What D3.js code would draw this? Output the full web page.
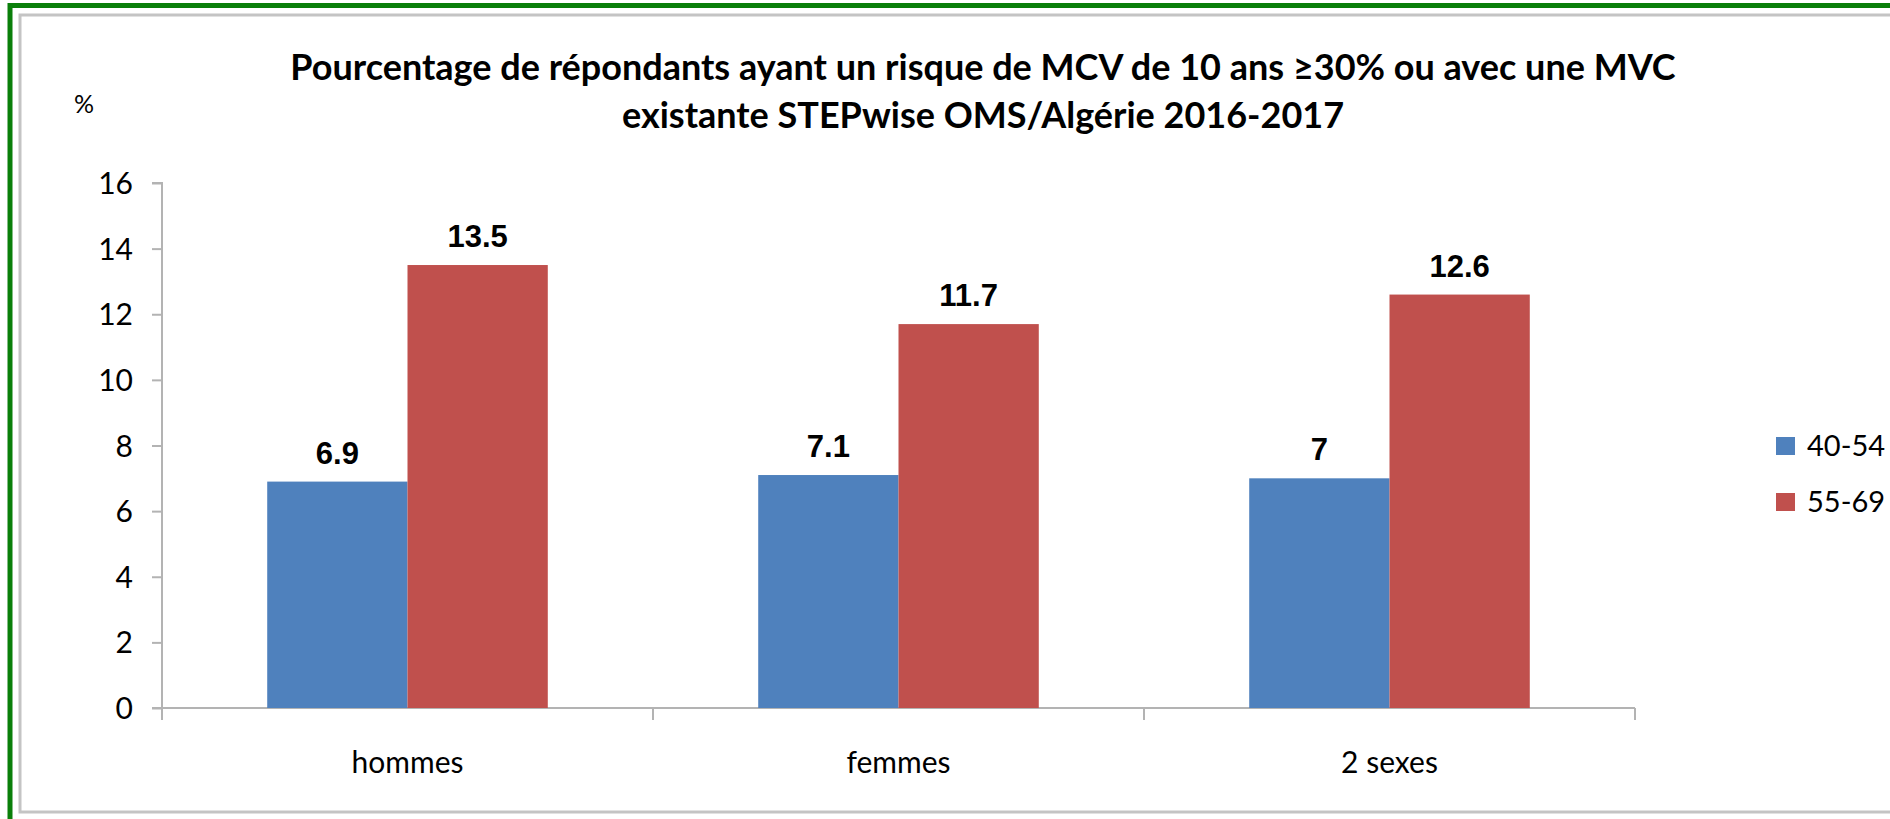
<!DOCTYPE html>
<html>
<head>
<meta charset="utf-8">
<script src="https://cdn.jsdelivr.net/npm/d3@7"></script>
<style>
  html, body { margin: 0; padding: 0; background: #fff; }
  svg { display: block; }
</style>
</head>
<body>
<div id="chart-container"></div>
<script>
const categories = ['hommes', 'femmes', '2 sexes'];
const series = ['40-54', '55-69'];
const values4054 = [6.9, 7.1, 7];
const values5569 = [13.5, 11.7, 12.6];
const yTicks = [0, 2, 4, 6, 8, 10, 12, 14, 16];
const titleLines = [
  'Pourcentage de répondants ayant un risque de MCV de 10 ans ≥30% ou avec une MVC',
  'existante STEPwise OMS/Algérie 2016-2017'
];

const colors = { '40-54': '#4F81BD', '55-69': '#C0504D' };

const W = 1890, H = 819;
const margin = { top: 183, right: 255, bottom: 111, left: 162 };
const width = W - margin.left - margin.right;
const height = H - margin.top - margin.bottom;

const svg = d3.select('#chart-container')
  .append('svg')
  .attr('width', W)
  .attr('height', H);

// frames
svg.append('rect')
  .attr('x', 20).attr('y', 15)
  .attr('width', W + 20).attr('height', 797)
  .attr('fill', '#fff')
  .attr('stroke', '#c4c4c4')
  .attr('stroke-width', 3);

svg.append('rect')
  .attr('x', 10).attr('y', 5.5)
  .attr('width', W + 20).attr('height', H + 20)
  .attr('fill', 'none')
  .attr('stroke', '#0a7f0a')
  .attr('stroke-width', 5);

// title
svg.append('text')
  .attr('x', 983)
  .attr('y', 80)
  .attr('text-anchor', 'middle')
  .style('font-family', 'Lato, sans-serif')
  .style('font-weight', 'bold')
  .style('font-size', '36px')
  .attr('fill', '#000')
  .selectAll('tspan')
  .data(titleLines)
  .enter()
  .append('tspan')
  .attr('x', 983)
  .attr('dy', (d, i) => i === 0 ? 0 : 48)
  .text(d => d);

svg.append('text')
  .attr('x', 84)
  .attr('y', 113)
  .attr('text-anchor', 'middle')
  .style('font-family', 'Lato, sans-serif')
  .style('font-size', '25px')
  .text('%');

const g = svg.append('g')
  .attr('transform', `translate(${margin.left},${margin.top})`);

const x = d3.scaleBand()
  .domain(categories)
  .range([0, width])
  .padding(0);

const bw = x.bandwidth() / 3.5;
const xs = d3.scaleBand()
  .domain(series)
  .range([0.75 * bw, 2.75 * bw])
  .padding(0);

const y = d3.scaleLinear()
  .domain([0, 16])
  .range([height, 0]);

// y axis
const yAxis = g.append('g')
  .call(d3.axisLeft(y).tickValues(yTicks).tickSize(10).tickPadding(19).tickFormat(d3.format('d')));
yAxis.select('.domain').attr('stroke', '#b3b3b3').attr('stroke-width', 2)
  .attr('d', `M-10,0H0V${height}`);
yAxis.selectAll('.tick line').attr('stroke', '#b3b3b3').attr('stroke-width', 2);
yAxis.selectAll('.tick text')
  .style('font-family', 'Lato, sans-serif')
  .style('font-size', '30px')
  .attr('fill', '#000')
  .attr('dy', '0.35em');

// x axis
const xAxis = g.append('g')
  .attr('transform', `translate(0,${height})`)
  .call(d3.axisBottom(x).tickSize(0).tickPadding(44));
xAxis.select('.domain').attr('stroke', '#b3b3b3').attr('stroke-width', 2)
  .attr('d', `M-10,0H${width}`);
xAxis.selectAll('.tick text')
  .style('font-family', 'Lato, sans-serif')
  .style('font-size', '30px')
  .attr('fill', '#000');

// category boundary ticks
g.append('g')
  .selectAll('line')
  .data(d3.range(categories.length + 1))
  .enter()
  .append('line')
  .attr('x1', i => i * x.step())
  .attr('x2', i => i * x.step())
  .attr('y1', height)
  .attr('y2', height + 12)
  .attr('stroke', '#b3b3b3')
  .attr('stroke-width', 2);

const data = categories.map((c, i) => ({
  category: c,
  values: [
    { key: '40-54', value: values4054[i] },
    { key: '55-69', value: values5569[i] }
  ]
}));

const groups = g.selectAll('.group')
  .data(data)
  .enter()
  .append('g')
  .attr('transform', d => `translate(${x(d.category)},0)`);

groups.selectAll('rect')
  .data(d => d.values)
  .enter()
  .append('rect')
  .attr('x', d => xs(d.key))
  .attr('y', d => y(d.value))
  .attr('width', xs.bandwidth())
  .attr('height', d => height - y(d.value))
  .attr('fill', d => colors[d.key]);

groups.selectAll('.label')
  .data(d => d.values)
  .enter()
  .append('text')
  .attr('x', d => xs(d.key) + xs.bandwidth() / 2)
  .attr('y', d => y(d.value) - 18)
  .attr('text-anchor', 'middle')
  .style('font-family', '"Liberation Sans", Arial, sans-serif')
  .style('font-weight', 'bold')
  .style('font-size', '31px')
  .attr('fill', '#000')
  .text(d => d.value);

// legend
const legend = svg.append('g')
  .attr('transform', 'translate(1776,437)');

const items = legend.selectAll('g')
  .data(series)
  .enter()
  .append('g')
  .attr('transform', (d, i) => `translate(0,${i * 56})`);

items.append('rect')
  .attr('width', 19)
  .attr('height', 18)
  .attr('fill', d => colors[d]);

items.append('text')
  .attr('x', 31)
  .attr('y', 9)
  .attr('dy', '0.35em')
  .style('font-family', 'Lato, sans-serif')
  .style('font-size', '29px')
  .attr('fill', '#000')
  .text(d => d);
</script>
</body>
</html>
